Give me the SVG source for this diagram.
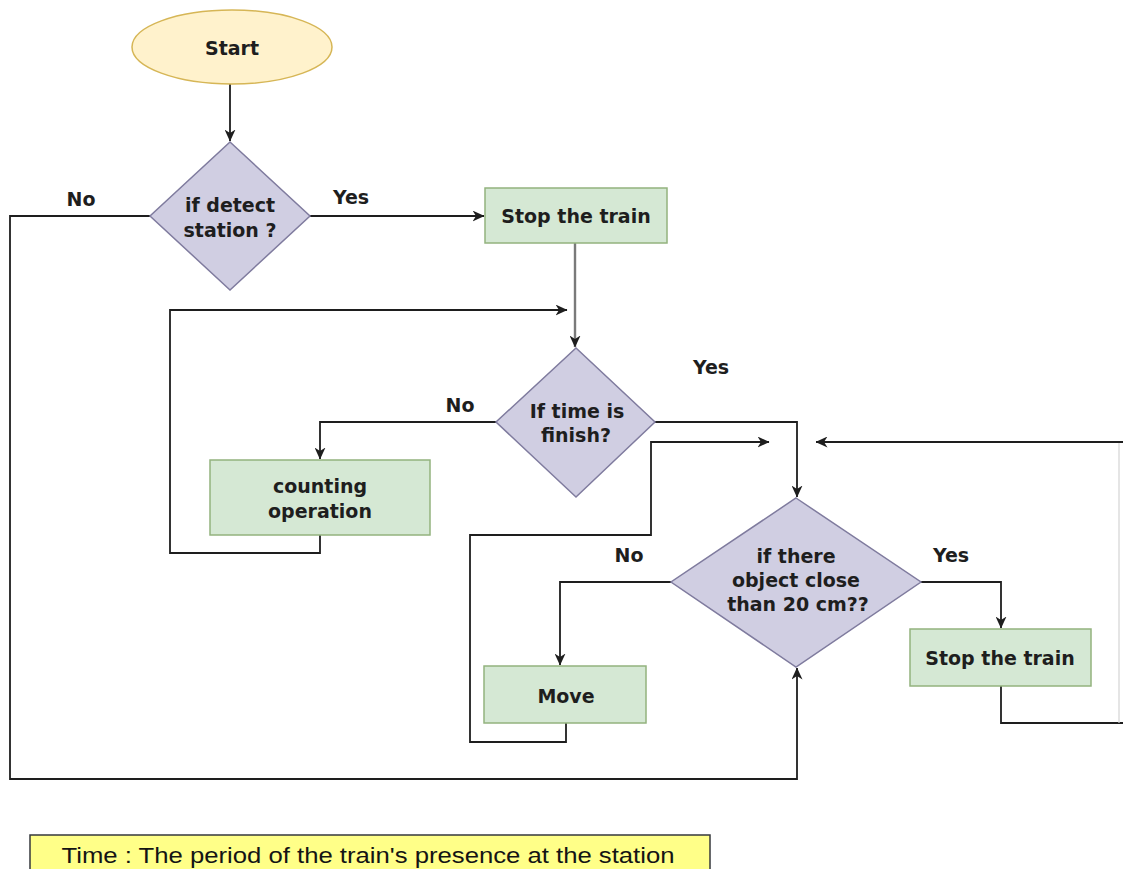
<svg xmlns="http://www.w3.org/2000/svg" width="1123" height="869" viewBox="0 0 1123 869">
  <style>
    .lbl { font-family: "DejaVu Sans", Verdana, sans-serif; font-weight: bold; font-size: 19px; fill: #1e1e1e; text-anchor: middle; }
    .edge { fill: none; stroke: #1e1e1e; stroke-width: 1.8; }
    .term { fill: #fff2cc; stroke: #d6b656; stroke-width: 1.5; }
    .dec { fill: #d0cee2; stroke: #7f7b9e; stroke-width: 1.5; }
    .proc { fill: #d5e8d4; stroke: #93b37e; stroke-width: 1.5; }
    .note { fill: #ffff88; stroke: #36393d; stroke-width: 1.5; }
  </style>
  <defs>
    <marker id="arrow" viewBox="0 0 12 11" refX="11.5" refY="5.5" markerWidth="12" markerHeight="11" markerUnits="userSpaceOnUse" orient="auto">
      <path d="M0,0 L12,5.5 L0,11 L3.5,5.5 z" fill="#1e1e1e"/>
    </marker>
  </defs>
  <rect width="1123" height="869" fill="#ffffff"/>

  <!-- connectors -->
  <g id="connectors">
    <path class="edge" d="M230,84 L230,141" marker-end="url(#arrow)"/>
    <path class="edge" d="M310,216 L484,216" marker-end="url(#arrow)"/>
    <path class="edge" d="M150,216 L10,216 L10,779 L797,779 L797,668" marker-end="url(#arrow)"/>
    <path class="edge" d="M575,243 L575,347" style="stroke:#7a7a7a;stroke-width:2.4" marker-end="url(#arrow)"/>
    <path class="edge" d="M496,422 L320,422 L320,459" marker-end="url(#arrow)"/>
    <path class="edge" d="M320,535 L320,553 L170,553 L170,310 L567,310" marker-end="url(#arrow)"/>
    <path class="edge" d="M655,422 L797,422 L797,497" marker-end="url(#arrow)"/>
    <path class="edge" d="M566,723 L566,742 L470,742 L470,535 L651,535 L651,442 L769,442" marker-end="url(#arrow)"/>
    <path class="edge" d="M671,582 L560,582 L560,665" marker-end="url(#arrow)"/>
    <path class="edge" d="M921,582 L1001,582 L1001,628" marker-end="url(#arrow)"/>
    <path class="edge" d="M1001,686 L1001,723 L1123,723"/>
    <path class="edge" d="M1119,723 L1119,442" style="stroke:#d4d4d4;stroke-width:1.2"/>
    <path class="edge" d="M1123,442 L816,442" marker-end="url(#arrow)"/>
  </g>

  <!-- edge labels -->
  <g id="edge-labels">
    <text class="lbl" x="81" y="206">No</text>
    <text class="lbl" x="351" y="204">Yes</text>
    <text class="lbl" x="460" y="412">No</text>
    <text class="lbl" x="711" y="374">Yes</text>
    <text class="lbl" x="629" y="562">No</text>
    <text class="lbl" x="951" y="562">Yes</text>
  </g>

  <g id="start">
    <ellipse class="term" cx="232" cy="47" rx="100" ry="37"/>
    <text class="lbl" x="232" y="55">Start</text>
  </g>

  <g id="detect-station">
    <polygon class="dec" points="230,142 310,216 230,290 150,216"/>
    <text class="lbl" x="230" y="212">if detect</text>
    <text class="lbl" x="230" y="237">station ?</text>
  </g>

  <g id="stop-train-1">
    <rect class="proc" x="485" y="188" width="182" height="55"/>
    <text class="lbl" x="576" y="223">Stop the train</text>
  </g>

  <g id="time-finish">
    <polygon class="dec" points="576,348 655,422 576,497 496,422"/>
    <text class="lbl" x="577" y="418">If time is</text>
    <text class="lbl" x="576" y="442">finish?</text>
  </g>

  <g id="counting">
    <rect class="proc" x="210" y="460" width="220" height="75"/>
    <text class="lbl" x="320" y="493">counting</text>
    <text class="lbl" x="320" y="518">operation</text>
  </g>

  <g id="object-close">
    <polygon class="dec" points="796,498 921,582 796,667 671,582"/>
    <text class="lbl" x="796" y="563">if there</text>
    <text class="lbl" x="796" y="587">object close</text>
    <text class="lbl" x="798" y="611">than 20 cm??</text>
  </g>

  <g id="move">
    <rect class="proc" x="484" y="666" width="162" height="57"/>
    <text class="lbl" x="566" y="703">Move</text>
  </g>

  <g id="stop-train-2">
    <rect class="proc" x="910" y="629" width="181" height="57"/>
    <text class="lbl" x="1000" y="665">Stop the train</text>
  </g>

  <g id="time-note">
    <rect class="note" x="30" y="835" width="680" height="40"/>
    <text x="368" y="863" text-anchor="middle" textLength="613" lengthAdjust="spacingAndGlyphs" style="font-family:'Liberation Sans', Arial, sans-serif;font-size:22px;fill:#141414">Time : The period of the train's presence at the station</text>
  </g>
</svg>
